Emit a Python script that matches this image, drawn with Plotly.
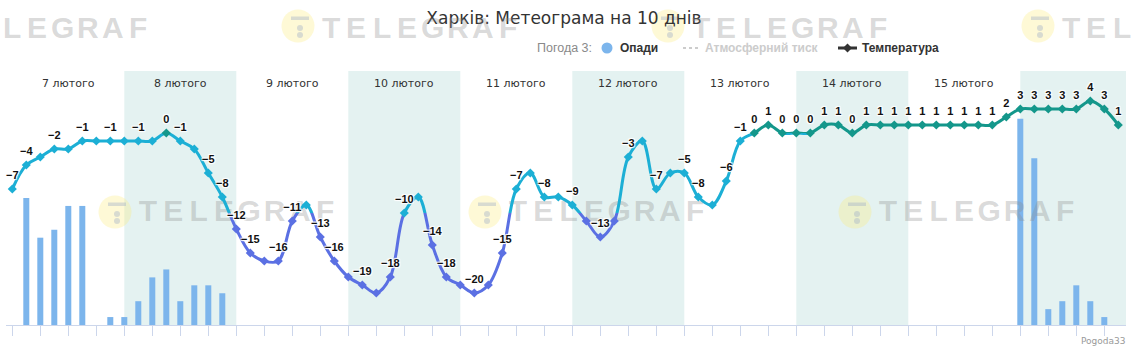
import plotly.graph_objects as go
import pandas as pd

# ---------------- data ----------------
START = "2025-02-07 00:00"
times = pd.date_range(START, periods=80, freq="3h")

temperature = [-7, -4, -3, -2, -2, -1, -1, -1, -1, -1, -1, 0, -1, -2, -5, -8,
               -12, -15, -16, -16, -11, -9, -13, -16, -18, -19, -20, -18, -10, -8, -14, -18,
               -19, -20, -19, -15, -7, -5, -8, -8, -9, -11, -13, -11, -3, -1, -7, -5,
               -5, -8, -9, -6, -1, 0, 1, 0, 0, 0, 1, 1, 0, 1, 1, 1,
               1, 1, 1, 1, 1, 1, 1, 2, 3, 3, 3, 3, 3, 4, 3, 1]

precipitation = [0, 1.6, 1.1, 1.2, 1.5, 1.5, 0, 0.1, 0.1, 0.3, 0.6, 0.7, 0.3, 0.5, 0.5, 0.4,
                 0, 0, 0, 0, 0, 0, 0, 0, 0, 0, 0, 0, 0, 0, 0, 0,
                 0, 0, 0, 0, 0, 0, 0, 0, 0, 0, 0, 0, 0, 0, 0, 0,
                 0, 0, 0, 0, 0, 0, 0, 0, 0, 0, 0, 0, 0, 0, 0, 0,
                 0, 0, 0, 0, 0, 0, 0, 0, 2.6, 2.1, 0.2, 0.3, 0.5, 0.3, 0.1, 0]

# indices of points whose value label is shown
labeled_points = [0, 1, 3, 5, 7, 9, 11, 12, 14, 15, 16, 17, 19, 20, 22, 23, 25, 27, 28,
                  30, 31, 33, 35, 36, 38, 40, 42, 44, 46, 48, 49, 51,
                  52, 53, 54, 55, 56, 57, 58, 59, 60, 61, 62, 63, 64, 65, 66, 67, 68, 69,
                  70, 71, 72, 73, 74, 75, 76, 77, 78, 79]

day_starts = pd.date_range(START, periods=10, freq="D")
day_labels = ["7 лютого", "8 лютого", "9 лютого", "10 лютого", "11 лютого",
              "12 лютого", "13 лютого", "14 лютого", "15 лютого"]

TITLE = "Харків: Метеограма на 10 днів"
LEGEND_NAMES = ["Опади", "Атмосферний тиск", "Температура"]
CREDIT = "Pogoda33"
WATERMARK = "TELEGRAF"

# ---------------- style ----------------
W, H = 1136, 353
L, R, T, B = 6, 1126, 71, 325
T0 = pd.Timestamp(START)
X_RANGE = [T0 - pd.Timedelta(hours=1.35), T0 + pd.Timedelta(hours=238.65)]
TEMP_MIN, TEMP_MAX = -24, 7.75
PREC_MAX = 3.2
COLD, MILD = -10, 0
PURPLE, CYAN, TEAL = "#5b70e3", "#1cafd5", "#14978b"
BAR_COLOR = "#7cb5ec"
BAND_COLOR = "rgba(10,137,128,0.11)"
WM_COLOR = "rgba(140,140,140,0.32)"
WM_FONT = dict(family="Liberation Sans", size=30, weight="bold", color=WM_COLOR)


def px(p):
    return (p - L) / (R - L)


def py(p):
    return (B - p) / (B - T)


def frac(t):
    return (t - TEMP_MIN) / (TEMP_MAX - TEMP_MIN)


def x_at(p):
    return T0 + pd.Timedelta(hours=(p - 12.3) * 3 / 14)


def prec_at(p):
    return (B - p) / (B - T) * PREC_MAX


def zone_color(v):
    if v < COLD:
        return PURPLE
    if v < MILD:
        return CYAN
    return TEAL


def fmt(v):
    return ("−" + str(-v)) if v < 0 else str(v)


F_COLD, F_MILD = frac(COLD), frac(MILD)

fig = go.Figure()

# watermark letters inside the plot area (lowest layer)
wm_top = [(-72, 26), (298, 26), (668, 26), (1038, 26)]
wm_mid = [(115, 212), (485, 212), (855, 212)]
wx, wy, wt = [], [], []
for cx, cy in wm_mid:
    for k, ch in enumerate(WATERMARK):
        wx.append(x_at(cx + 33 + 25.3 * k))
        wy.append(prec_at(cy + 1))
        wt.append(ch)
fig.add_trace(go.Scatter(x=wx, y=wy, text=wt, mode="text", textposition="middle center",
                         textfont=WM_FONT, hoverinfo="skip", showlegend=False,
                         xaxis="x", yaxis="y"))

# precipitation bars
fig.add_trace(go.Bar(x=times, y=precipitation, width=6 * 3 / 14 * 3600 * 1000,
                     marker=dict(color=BAR_COLOR, line=dict(width=0)),
                     name=LEGEND_NAMES[0], xaxis="x", yaxis="y", hoverinfo="skip"))

# temperature line, coloured by zone via clipped sub-axes
for axis, color in (("y2", PURPLE), ("y3", CYAN), ("y4", TEAL)):
    fig.add_trace(go.Scatter(x=times, y=temperature, mode="lines",
                             line=dict(color=color, width=3, shape="spline", smoothing=1,
                                       simplify=False),
                             xaxis="x", yaxis=axis, hoverinfo="skip", showlegend=False))

# markers and value labels on a full-height axis drawn last
fig.add_trace(go.Scatter(x=times, y=temperature, mode="markers",
                         marker=dict(symbol="diamond", size=7,
                                     color=[zone_color(v) for v in temperature]),
                         cliponaxis=False, xaxis="x", yaxis="y5", hoverinfo="skip",
                         showlegend=False))

label_text = [fmt(v) if i in labeled_points else "" for i, v in enumerate(temperature)]
fig.add_trace(go.Scatter(x=times, y=temperature, mode="markers+text", text=label_text,
                         textposition="top center",
                         marker=dict(size=10, color="rgba(0,0,0,0)"),
                         textfont=dict(family="Liberation Sans", size=11, weight="bold",
                                       color="#111111", shadow="auto"),
                         cliponaxis=False, xaxis="x", yaxis="y5", hoverinfo="skip",
                         showlegend=False))

shapes = []
# day bands
for i, d in enumerate(day_starts):
    if i % 2 == 1:
        shapes.append(dict(type="rect", xref="x", yref="paper", x0=d,
                           x1=min(d + pd.Timedelta(days=1), X_RANGE[1]), y0=0, y1=1,
                           fillcolor=BAND_COLOR, line=dict(width=0), layer="below"))

# watermark circles + logo
for cx, cy in wm_top + wm_mid:
    r = 16.5
    shapes.append(dict(type="circle", xref="paper", yref="paper",
                       x0=px(cx - r), x1=px(cx + r), y0=py(cy + r), y1=py(cy - r),
                       fillcolor="rgba(252,236,120,0.30)", line=dict(width=0), layer="below"))
    shapes.append(dict(type="rect", xref="paper", yref="paper",
                       x0=px(cx - 7), x1=px(cx + 11), y0=py(cy - 6), y1=py(cy - 9.5),
                       fillcolor="rgba(160,175,200,0.40)", line=dict(width=0), layer="below"))
    for dy in (2, 9):
        shapes.append(dict(type="circle", xref="paper", yref="paper",
                           x0=px(cx - 1), x1=px(cx + 5), y0=py(cy + dy + 3),
                           y1=py(cy + dy - 3),
                           fillcolor="rgba(160,175,200,0.40)", line=dict(width=0),
                           layer="below"))

# legend symbols
LY = 48
shapes.append(dict(type="circle", xref="paper", yref="paper", x0=px(601.5), x1=px(612.5),
                   y0=py(LY + 5.5), y1=py(LY - 5.5), fillcolor=BAR_COLOR, line=dict(width=0)))
shapes.append(dict(type="line", xref="paper", yref="paper", x0=px(683), x1=px(698),
                   y0=py(LY), y1=py(LY), line=dict(color="#cccccc", width=2, dash="dot")))
shapes.append(dict(type="line", xref="paper", yref="paper", x0=px(838), x1=px(857),
                   y0=py(LY), y1=py(LY), line=dict(color="#333333", width=3)))
shapes.append(dict(type="path", xref="paper", yref="paper",
                   path=f"M {px(847.5)},{py(LY - 4.5)} L {px(852)},{py(LY)} "
                        f"L {px(847.5)},{py(LY + 4.5)} L {px(843)},{py(LY)} Z",
                   fillcolor="#333333", line=dict(width=0)))

annotations = []
# watermark letters above the plot area
for cx, cy in wm_top:
    for k, ch in enumerate(WATERMARK):
        annotations.append(dict(x=px(cx + 33 + 25.3 * k), y=py(cy + 1), xref="paper",
                                yref="paper", text=ch, showarrow=False, xanchor="center",
                                yanchor="middle", font=WM_FONT))

for d, lab in zip(day_starts, day_labels):
    annotations.append(dict(x=d + pd.Timedelta(hours=12), xref="x", y=py(83), yref="paper",
                            text=lab, showarrow=False, xanchor="center", yanchor="middle",
                            font=dict(family="DejaVu Sans", size=11, color="#333333")))

leg_font_b = dict(family="Liberation Sans", size=12, weight="bold")
annotations += [
    dict(x=px(535), y=py(LY), xref="paper", yref="paper", text="Погода 3:", showarrow=False,
         xanchor="left", yanchor="middle",
         font=dict(family="Liberation Sans", size=12.5, color="#8a8a8a")),
    dict(x=px(618), y=py(LY), xref="paper", yref="paper", text=LEGEND_NAMES[0],
         showarrow=False, xanchor="left", yanchor="middle", font=dict(**leg_font_b, color="#333333")),
    dict(x=px(703), y=py(LY), xref="paper", yref="paper", text=LEGEND_NAMES[1],
         showarrow=False, xanchor="left", yanchor="middle", font=dict(**leg_font_b, color="#cccccc")),
    dict(x=px(860), y=py(LY), xref="paper", yref="paper", text=LEGEND_NAMES[2],
         showarrow=False, xanchor="left", yanchor="middle", font=dict(**leg_font_b, color="#333333")),
    dict(x=px(1128), y=py(341), xref="paper", yref="paper", text=CREDIT, showarrow=False,
         xanchor="right", yanchor="middle",
         font=dict(family="DejaVu Sans", size=9, color="#999999")),
]

fig.update_layout(
    width=W, height=H, autosize=False,
    margin=dict(l=L, r=W - R, t=T, b=H - B, pad=0),
    paper_bgcolor="white", plot_bgcolor="rgba(0,0,0,0)",
    showlegend=False,
    title=dict(text=TITLE, x=564 / W, xanchor="center", y=1 - 18 / H, yanchor="middle",
               font=dict(family="DejaVu Sans", size=17, color="#333333")),
    xaxis=dict(type="date", range=X_RANGE, domain=[0, 1], anchor="y", showgrid=False,
               zeroline=False, showline=True, linecolor="#ccd6eb", linewidth=1,
               ticks="outside", ticklen=10, tickcolor="#ccd6eb", tickwidth=1,
               tick0=START, dtick=6 * 3600 * 1000, showticklabels=False),
    yaxis=dict(range=[0, PREC_MAX], domain=[0, 1], anchor="x", visible=False),
    yaxis2=dict(range=[TEMP_MIN, COLD], domain=[0, F_COLD], anchor="x", visible=False),
    yaxis3=dict(range=[COLD, MILD], domain=[F_COLD, F_MILD], anchor="x", visible=False),
    yaxis4=dict(range=[MILD, TEMP_MAX], domain=[F_MILD, 1], anchor="x", visible=False),
    yaxis5=dict(range=[TEMP_MIN, TEMP_MAX], domain=[0, 1], anchor="x", visible=False),
    shapes=shapes, annotations=annotations,
)

fig.write_html("out.html")
